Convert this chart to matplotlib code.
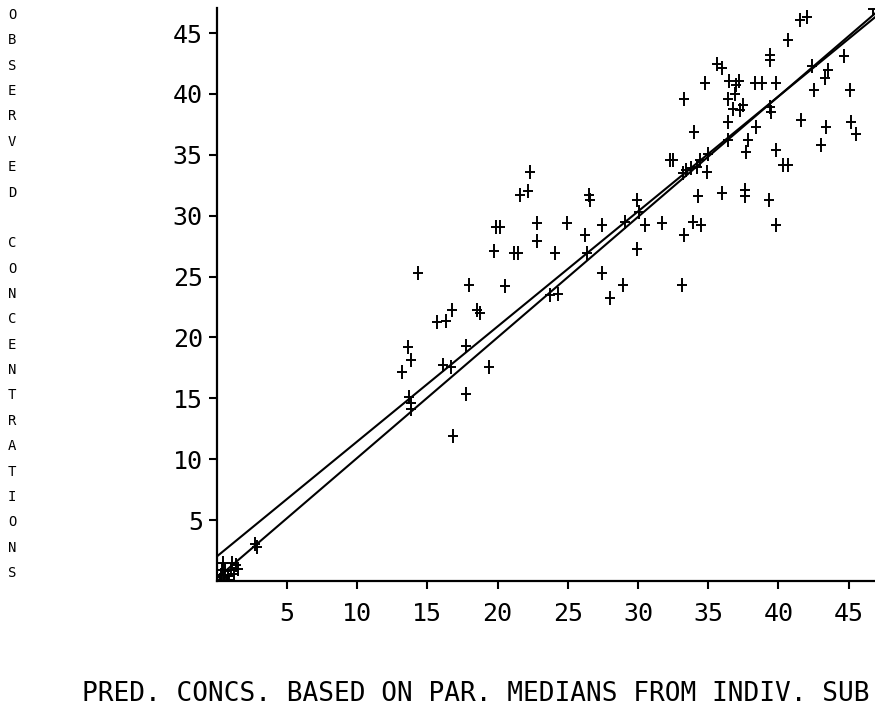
import matplotlib
matplotlib.use('Agg')
import matplotlib.pyplot as plt
from matplotlib.path import Path
import numpy as np

# ---------------- data ----------------
pred_x = [0.2, 0.3, 0.5, 0.6, 0.8, 0.9, 1.0, 1.2, 0.45, 1.4, 0.7, 1.1, 0.4, 1.5,
          2.7, 2.9,
          13.2, 13.6, 13.86, 13.7, 13.8, 13.8, 14.35, 15.7, 16.3, 16.1, 16.67, 16.77,
          16.8, 17.74, 17.74, 17.97, 18.5, 18.74, 19.4, 19.75, 20.15, 19.9, 20.5,
          21.2, 21.45, 21.6, 22.15, 22.3, 22.8, 22.8, 23.7, 24.3, 24.1, 24.95,
          26.25, 26.4, 26.5, 26.6, 27.4, 27.45, 28.0, 28.9, 29.05, 29.96, 29.96,
          30.1, 30.5, 31.7, 32.25, 32.5, 33.1, 33.2, 33.3, 33.3, 33.45, 33.8, 33.9,
          34.0, 34.2, 34.3, 34.4, 34.5, 34.8, 34.9, 35.0, 35.6, 35.95, 36.0, 36.4,
          36.4, 36.4, 36.5, 36.75, 36.9, 37.0, 37.2, 37.25, 37.5, 37.6, 37.6, 37.7,
          37.8, 38.3, 38.8, 38.4, 39.3, 39.4, 39.4, 39.4, 39.5, 39.8, 39.8, 39.85,
          40.3, 40.7, 40.7, 41.5, 42.0, 41.6, 42.4, 42.5, 43.0, 43.3, 43.5, 43.4,
          44.7, 45.1, 45.2, 45.55, 46.7]
obs_y = [0.1, 0.5, 0.2, 0.8, 0.4, 0.1, 0.9, 0.6, 1.45, 1.3, 0.0, 1.5, 0.9, 1.0,
         3.0, 2.8,
         17.2, 19.2, 18.15, 15.1, 14.6, 14.1, 25.3, 21.3, 21.35, 17.73, 17.6, 22.25,
         11.9, 19.3, 15.35, 24.3, 22.25, 22.0, 17.6, 27.1, 29.1, 29.1, 24.2,
         26.9, 26.9, 31.7, 32.0, 33.6, 29.4, 27.9, 23.5, 23.6, 26.9, 29.4,
         28.4, 26.9, 31.7, 31.3, 29.2, 25.3, 23.2, 24.3, 29.5, 31.3, 27.3,
         30.3, 29.2, 29.4, 34.6, 34.6, 24.3, 33.5, 28.4, 39.55, 33.75, 33.9, 29.5,
         36.85, 34.0, 31.6, 34.6, 29.2, 40.9, 33.6, 35.1, 42.5, 42.1, 31.9, 37.7,
         36.2, 39.6, 41.1, 38.8, 40.0, 40.7, 41.1, 38.7, 39.1, 32.1, 31.6, 35.25,
         36.2, 40.9, 40.9, 37.3, 31.3, 43.2, 42.8, 38.95, 38.5, 29.2, 35.4, 40.9,
         34.2, 34.2, 44.4, 46.1, 46.35, 37.9, 42.3, 40.3, 35.8, 41.3, 42.0, 37.3,
         43.1, 40.3, 37.7, 36.75, 47.0]

x_ticks = [5, 10, 15, 20, 25, 30, 35, 40, 45]
y_ticks = [5, 10, 15, 20, 25, 30, 35, 40, 45]

lower_line = [0.2, 0.99]        # intercept, slope
upper_line = [2.0, 0.945]       # intercept, slope

x_title = "PRED. CONCS. BASED ON PAR. MEDIANS FROM INDIV. SUB"
y_title = "OBSERVED CONCENTRATIONS"

# ---------------- figure ----------------
W, H = 875, 708
fig = plt.figure(figsize=(W / 100, H / 100), dpi=100)
ax = fig.add_axes([216.75 / W, (H - 580.9) / H, 660 / W, 573.4 / H])
ax.set_xlim(0, 47)
ax.set_ylim(0, 47.1)

mono = 'DejaVu Sans Mono'

plus = Path([(0, -0.5), (0, 0.5), (-0.38, 0), (0.38, 0)],
            [Path.MOVETO, Path.LINETO, Path.MOVETO, Path.LINETO])

xs = np.array([0, 47.5])
for b0, b1 in (lower_line, upper_line):
    ax.plot(xs, b0 + b1 * xs, color='black', lw=1.5, solid_capstyle='butt')

ax.plot(pred_x, obs_y, linestyle='none', marker=plus, markersize=10,
        markeredgewidth=1.4, color='black')

for s in ('top', 'right'):
    ax.spines[s].set_visible(False)
for s in ('left', 'bottom'):
    ax.spines[s].set_linewidth(1.6)

ax.set_xticks(x_ticks)
ax.set_yticks(y_ticks)
ax.set_xticklabels([str(v) for v in x_ticks], fontfamily=mono, fontsize=18)
ax.set_yticklabels([str(v) for v in y_ticks], fontfamily=mono, fontsize=18)
ax.tick_params(axis='x', direction='out', length=6, width=1.5, pad=9)
ax.tick_params(axis='y', direction='out', length=6, width=1.5, pad=4)

fig.text(82 / W, 1 - 694 / H, x_title, ha='left', va='center',
         fontfamily=mono, fontsize=18.8)

# y title: stacked letters
n = len(y_title)
top_px, bot_px = 15, 573
for i, ch in enumerate(y_title):
    if ch == ' ':
        continue
    ypx = top_px + (bot_px - top_px) * i / (n - 1)
    fig.text(12 / W, 1 - ypx / H, ch, ha='center', va='center',
             fontfamily=mono, fontsize=10)

fig.savefig('out.png', dpi=100)
